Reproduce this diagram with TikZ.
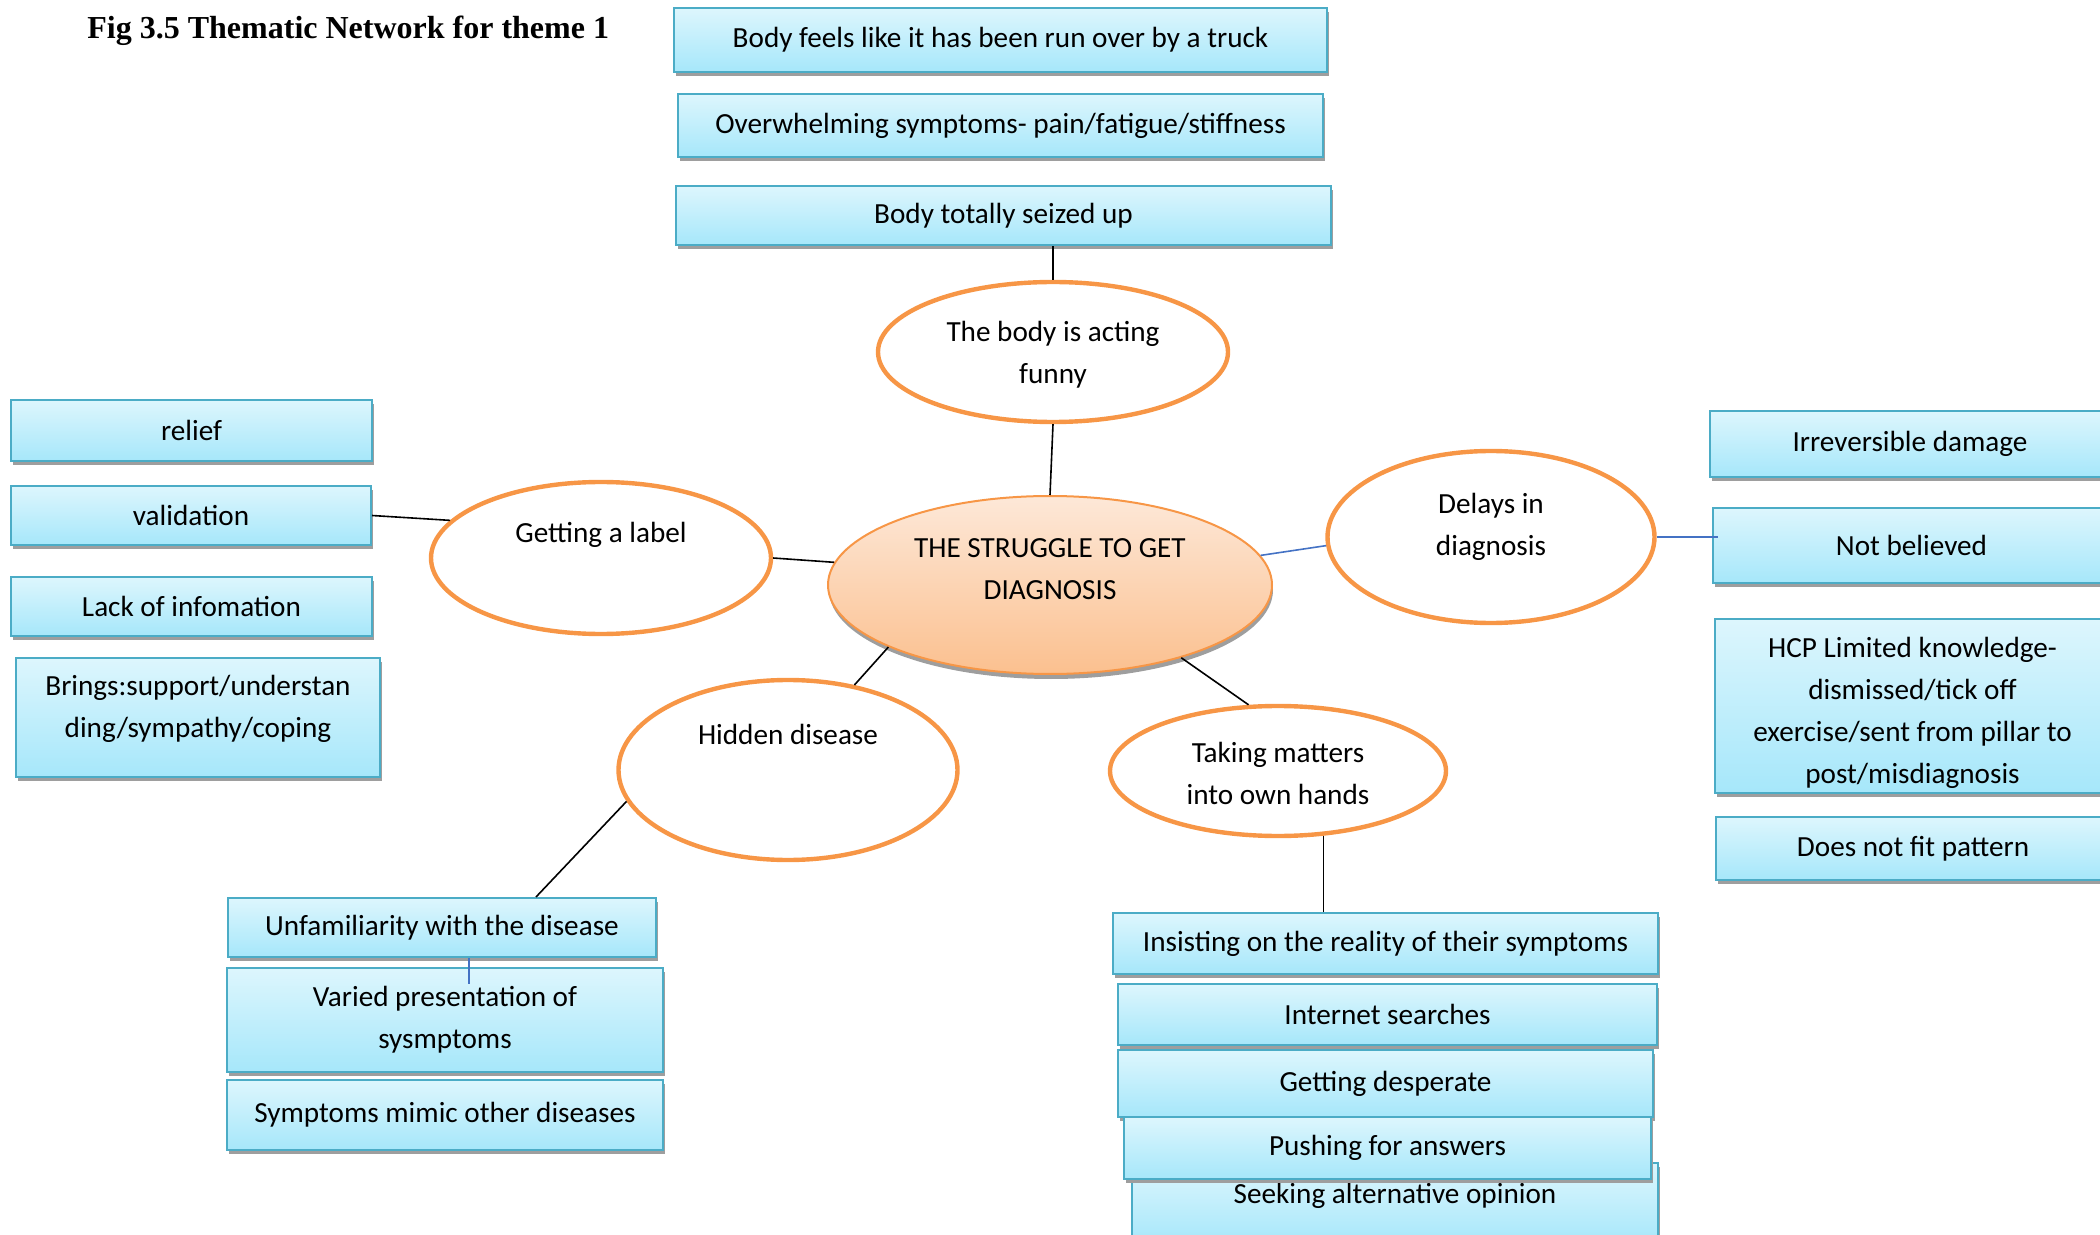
\documentclass[tikz,border=0pt]{standalone}
\usepackage{fontspec}
\setmainfont{Carlito}
\newfontfamily\figfont{Liberation Serif}
\usepackage{xcolor}
\usepackage{tikz}
\usetikzlibrary{shapes.geometric, shadows}

\definecolor{boxtop}{HTML}{DDF6FD}
\definecolor{boxbot}{HTML}{A6E7FA}
\definecolor{boxline}{HTML}{4BACC6}
\definecolor{ringline}{HTML}{F79646}
\definecolor{coretop}{HTML}{FDE8D8}
\definecolor{corebot}{HTML}{FBC08F}
\definecolor{linkblue}{HTML}{4472C4}

\tikzset{
  code/.style={rectangle, draw=boxline, line width=1pt, top color=boxtop, bottom color=boxbot,
    inner sep=0pt, align=center,
    drop shadow={shadow xshift=0.8pt, shadow yshift=-1.8pt, fill=black!38, opacity=1}},
  theme/.style={ellipse, draw=ringline, line width=2.2pt, fill=white, inner sep=0pt},
  hub/.style={ellipse, draw=ringline, line width=1pt, top color=coretop, bottom color=corebot,
    inner sep=0pt, drop shadow={shadow xshift=0.5pt, shadow yshift=-2.5pt, fill=black!38, opacity=1}},
  link/.style={line width=0.8pt},
  bluelink/.style={line width=0.8pt, draw=linkblue},
}

\begin{document}
\begin{tikzpicture}[x=0.5pt, y=-0.5pt, font=\fontsize{14.6}{21}\selectfont]
    \useasboundingbox (0,0) rectangle (2100,1235);
    \clip (0,0) rectangle (2100,1235);

    \node[anchor=base west, inner sep=0pt, font=\figfont\bfseries\fontsize{16}{19}\selectfont] (fig) at (87,39) {Fig 3.5 Thematic Network for theme 1};

    % top codes
    \node[code, minimum width=326.5pt, minimum height=32pt] (truck) at (1000.5,40) {Body feels like it has been run over by a truck};
    \node[code, minimum width=322.5pt, minimum height=31.5pt] (overwh) at (1000.5,125.5) {Overwhelming symptoms- pain/fatigue/stiffness};
    \node[code, minimum width=327.5pt, minimum height=29.5pt] (seized) at (1003.5,215.5) {Body totally seized up};

    % left codes
    \node[code, minimum width=180.5pt, minimum height=30.5pt] (relief) at (191.5,430.5) {relief};
    \node[code, minimum width=180pt, minimum height=29.5pt] (valid) at (191,515.5) {validation};
    \node[code, minimum width=180.5pt, minimum height=29.5pt] (lack) at (191.5,606.5) {Lack of infomation};
    \node[code, minimum width=182pt, minimum height=59.5pt] (brings) at (198,717.5) {Brings:support/understan\\ding/sympathy/coping\rule[-11pt]{0pt}{11pt}};

    % right codes
    \node[code, minimum width=200pt, minimum height=33pt] (irrev) at (1910,444) {Irreversible damage};
    \node[code, minimum width=198.5pt, minimum height=37.5pt] (notbel) at (1911.5,545.5) {Not believed};
    \node[code, minimum width=197.5pt, minimum height=87pt] (hcp) at (1912.5,706) {\rule{0pt}{17pt}HCP Limited knowledge-\\dismissed/tick off\\exercise/sent from pillar to\\post/misdiagnosis};
    \node[code, minimum width=197pt, minimum height=31.5pt] (nofit) at (1913,848.5) {Does not fit pattern};

    % bottom left codes
    \node[code, minimum width=214pt, minimum height=29.5pt] (unfam) at (442,927.5) {Unfamiliarity with the disease};
    \node[code, minimum width=218pt, minimum height=52pt] (varied) at (445,1020) {Varied presentation of\\sysmptoms};
    \node[code, minimum width=218pt, minimum height=35pt] (mimic) at (445,1115) {Symptoms mimic other diseases};

    % bottom right codes
    \node[code, minimum width=263pt, minimum height=41pt, text height=10pt, text depth=11pt] (seek) at (1395,1204) {Seeking alternative opinion};
    \node[code, minimum width=272.5pt, minimum height=30.5pt] (insist) at (1385.5,943.5) {Insisting on the reality of their symptoms};
    \node[code, minimum width=269.5pt, minimum height=30.5pt] (internet) at (1387.5,1014.5) {Internet searches};
    \node[code, minimum width=267.5pt, minimum height=33.5pt] (desper) at (1385.5,1083.5) {Getting desperate};
    \node[code, minimum width=263.5pt, minimum height=31pt] (push) at (1387.5,1148) {Pushing for answers};

    % themes
    \node[theme, minimum width=175pt, minimum height=70pt] (body) at (1053,352) {};
    \node[align=center] (bodytxt) at (1053,355) {The body is acting\\funny};
    \node[theme, minimum width=170pt, minimum height=76pt] (label) at (601,558) {};
    \node (labeltxt) at (601,535) {Getting a label};
    \node[theme, minimum width=163.5pt, minimum height=86pt] (delays) at (1491,537) {};
    \node[align=center] (delaystxt) at (1491,527) {Delays in\\diagnosis};
    \node[theme, minimum width=169.5pt, minimum height=90pt] (hidden) at (788,770) {};
    \node (hiddentxt) at (788,734) {Hidden disease};
    \node[theme, minimum width=168pt, minimum height=65pt] (taking) at (1278,771) {};
    \node[align=center] (takingtxt) at (1278,773) {Taking matters\\into own hands};

    % global theme
    \node[hub, minimum width=222pt, minimum height=89pt] (core) at (1050,585) {};
    \node[align=center] (coretxt) at (1050,569) {THE STRUGGLE TO GET\\DIAGNOSIS};

    \draw[link] (body.north) -- (body.north |- seized.south);
    \draw[link] (body.south) -- (core.north);
    \draw[link] (label.east) -- (core.174);
    \draw[link] (valid.east) -- (label.166);
    \draw[bluelink] (core.8) -- (delays.183);
    \draw[bluelink] (delays.east) -- ([xshift=3pt]delays.east -| notbel.west);
    \draw[link] (core.201) -- (hidden.52);
    \draw[link] (core.331) -- (taking.114);
    \draw[link] (hidden.191) -- ([xshift=47pt]unfam.north);
    \draw[link] (taking.305) -- (taking.305 |- insist.north);
    \draw[bluelink] ([xshift=13.5pt]unfam.south) -- ++(0,26);
\end{tikzpicture}
\end{document}
